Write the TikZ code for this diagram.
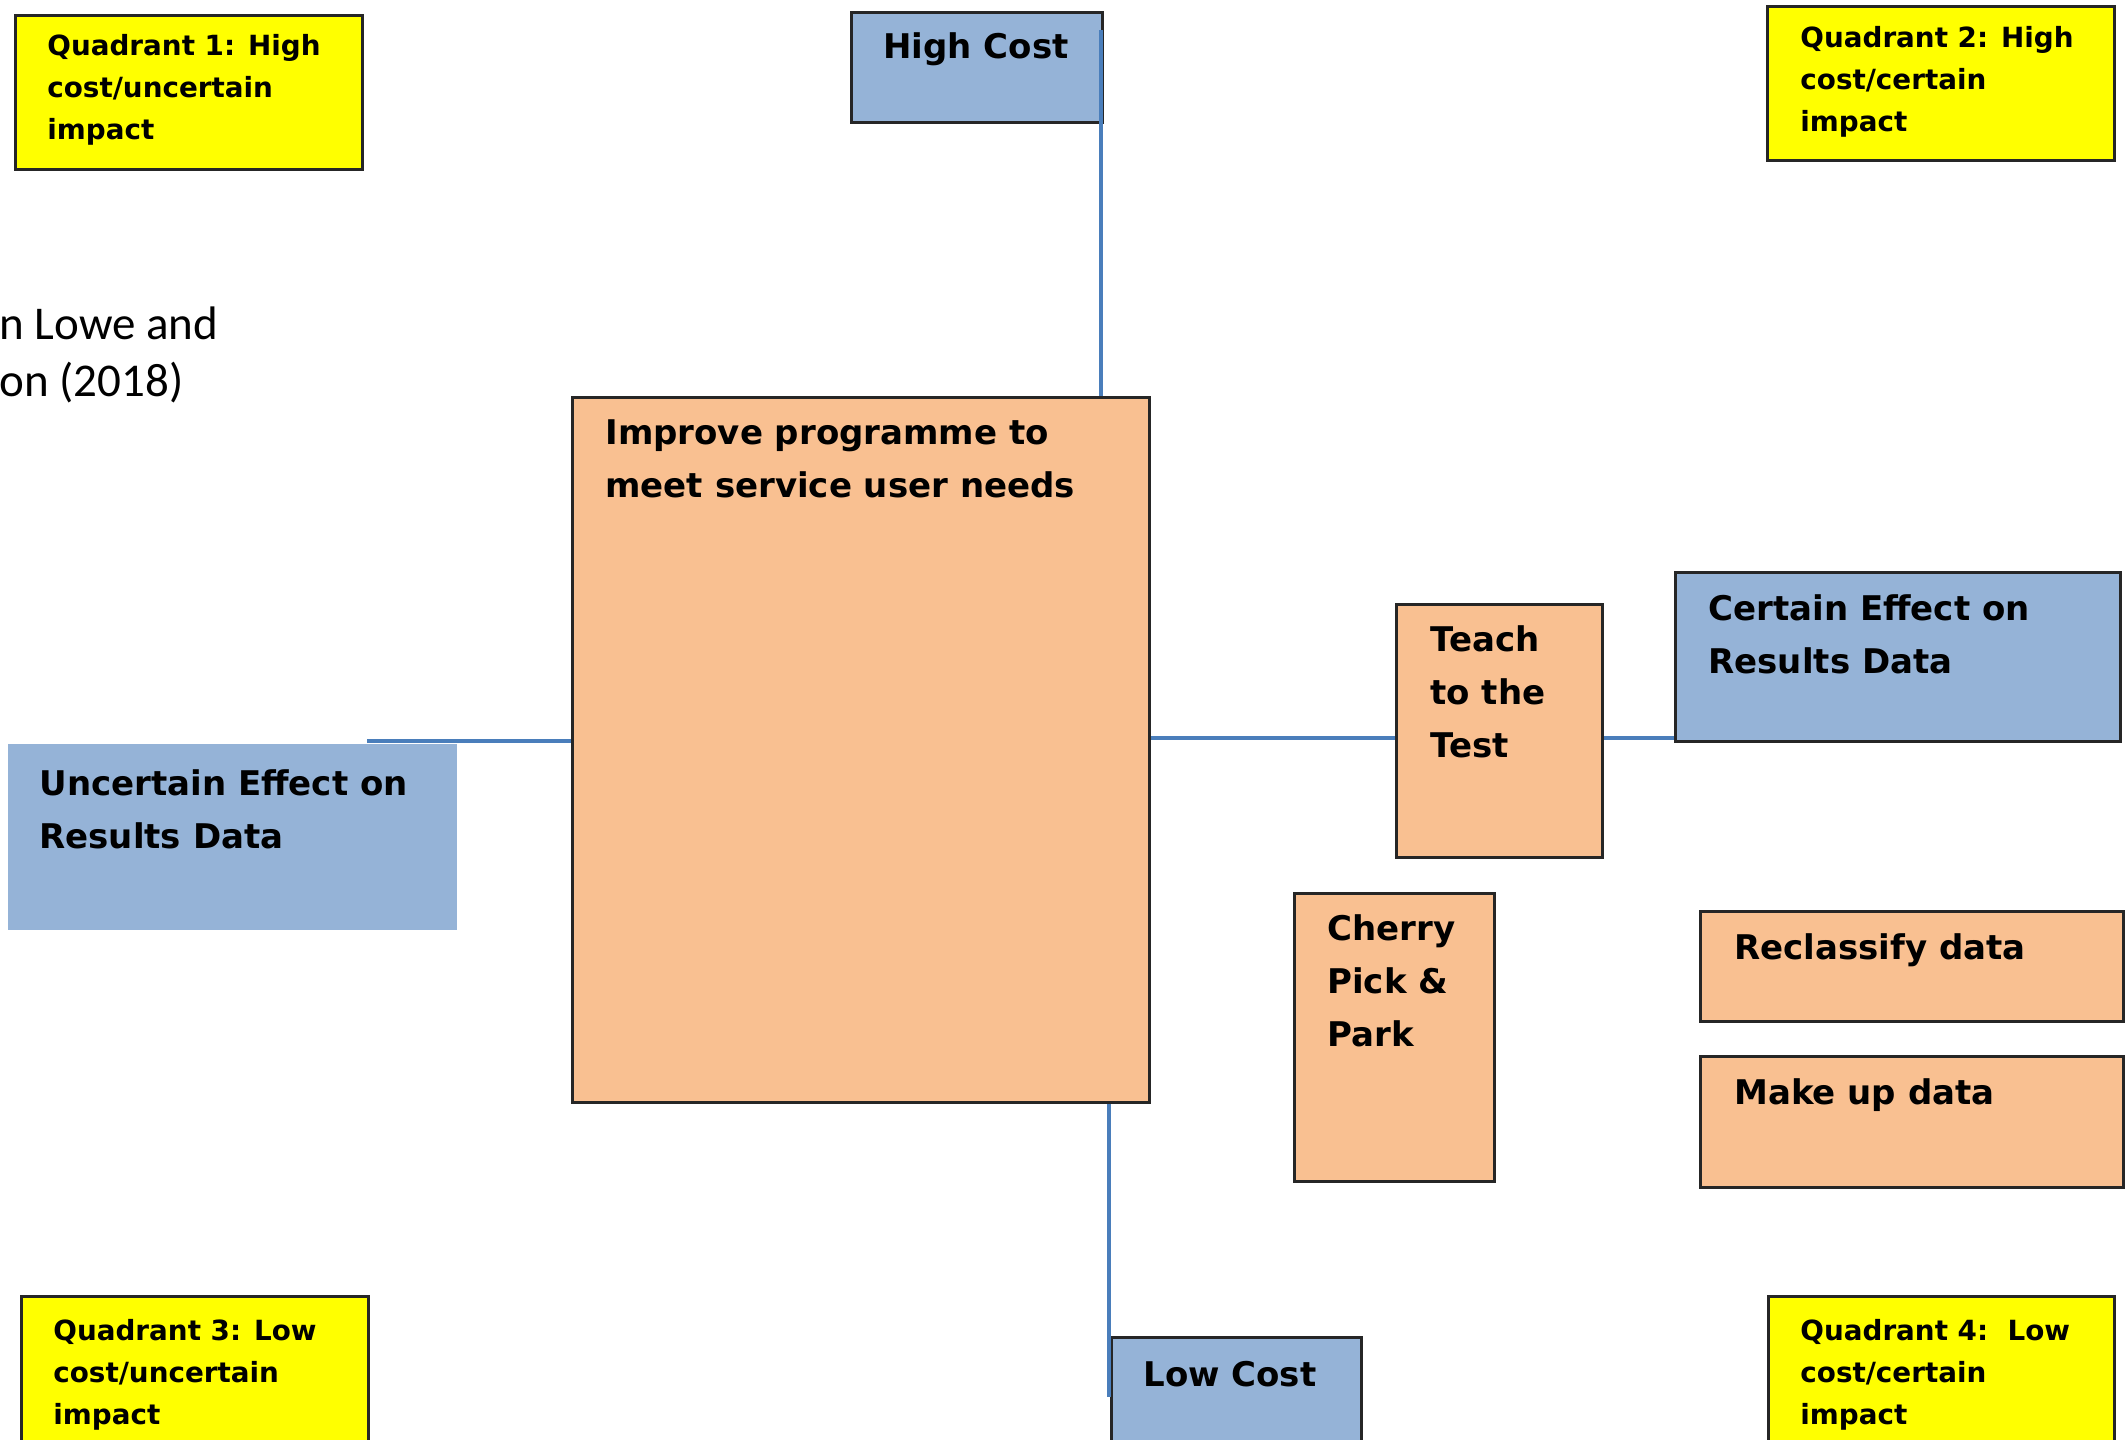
\documentclass[tikz,border=0pt]{standalone}
\usepackage{fontspec}
\setmainfont{DejaVu Sans}
\newfontfamily\calfont{Carlito}
\definecolor{boxblue}{HTML}{95B3D7}
\definecolor{boxorange}{HTML}{F9C091}
\definecolor{boxyellow}{HTML}{FFFF00}
\definecolor{boxline}{HTML}{262626}
\definecolor{connblue}{HTML}{4A7EBB}
\newcommand\boxlines[1]{\begin{tabular}[t]{@{}l@{}}#1\end{tabular}}
\tikzset{
  frame/.style={rectangle, draw=boxline, line width=1.6pt, inner sep=0pt, anchor=north west},
  bluebox/.style={frame, fill=boxblue},
  plainblue/.style={rectangle, draw=none, fill=boxblue, inner sep=0pt, anchor=north west},
  orangebox/.style={frame, fill=boxorange},
  yellowbox/.style={frame, fill=boxyellow},
  txt/.style={anchor=base west, inner sep=0pt, text=black, font=\bfseries\fontsize{17}{26.5}\selectfont},
  qtxt/.style={txt, font=\bfseries\fontsize{13.9}{21}\selectfont},
  citetxt/.style={anchor=base west, inner sep=0pt, text=black, font=\calfont\fontsize{23.5}{28.5}\selectfont},
  conn/.style={draw=connblue, line width=1.6pt}
}
\begin{document}
\begin{tikzpicture}[x=0.5pt, y=-0.5pt]
\useasboundingbox (0,0) rectangle (2126,1440);
\clip (0,0) rectangle (2126,1440);
\fill[white] (0,0) rectangle (2126,1440);

% quadrant labels
\node[yellowbox, minimum width=173.5pt, minimum height=77pt] (q1) at (14,14) {};
\node[qtxt] (q1t) at (47,55) {\boxlines{Quadrant 1: High\\cost/uncertain\\impact}};
\node[yellowbox, minimum width=173.5pt, minimum height=77pt] (q2) at (1766,5) {};
\node[qtxt] (q2t) at (1800,47) {\boxlines{Quadrant 2: High\\cost/certain\\impact}};
\node[yellowbox, minimum width=173.5pt, minimum height=85pt] (q3) at (20,1295) {};
\node[qtxt] (q3t) at (53,1340) {\boxlines{Quadrant 3: Low\\cost/uncertain\\impact}};
\node[yellowbox, minimum width=173pt, minimum height=85pt] (q4) at (1767,1295) {};
\node[qtxt] (q4t) at (1800,1340) {\boxlines{Quadrant 4:\ \ Low\\cost/certain\\impact}};

% citation (cut at the left edge)
\node[citetxt] (cite) at (-1,339) {\begin{tabular}[t]{@{}l@{}}n Lowe and\\on (2018)\end{tabular}};

% axis boxes
\node[bluebox, minimum width=125.5pt, minimum height=55pt] (high) at (850,11) {};
\node[txt] (hight) at (883,58) {High Cost};
\node[bluebox, minimum width=125pt, minimum height=70pt] (low) at (1110,1336) {};
\node[txt] (lowt) at (1143,1386) {Low Cost};
\node[plainblue, minimum width=224.5pt, minimum height=93pt] (unc) at (8,744) {};
\node[txt] (unct) at (39,795) {\boxlines{Uncertain Effect on\\Results Data}};
\node[bluebox, minimum width=222.5pt, minimum height=84.5pt] (cert) at (1674,571) {};
\node[txt] (certt) at (1708,620) {\boxlines{Certain Effect on\\Results Data}};

% strategy boxes
\node[orangebox, minimum width=288.5pt, minimum height=352.5pt] (main) at (571,396) {};
\node[txt] (maint) at (605,444) {\boxlines{Improve programme to\\meet service user needs}};
\node[orangebox, minimum width=103pt, minimum height=126.5pt] (teach) at (1395,603) {};
\node[txt] (teacht) at (1430,651) {\boxlines{Teach\\to the\\Test}};
\node[orangebox, minimum width=100pt, minimum height=144pt] (cherry) at (1293,892) {};
\node[txt] (cherryt) at (1327,940) {\boxlines{Cherry\\Pick \&\\Park}};
\node[orangebox, minimum width=211.5pt, minimum height=55pt] (recl) at (1699,910) {};
\node[txt] (reclt) at (1734,959) {Reclassify data};
\node[orangebox, minimum width=211.5pt, minimum height=65.5pt] (make) at (1699,1055) {};
\node[txt] (maket) at (1734,1104) {Make up data};

% connectors
\coordinate (topend) at (1101,30);
\coordinate (botend) at (1109,1397);
\coordinate (leftend) at (367,741);
\coordinate (rl) at (0,738);
\draw[conn] (topend) -- (topend |- main.north);
\draw[conn] (botend |- main.south) -- (botend);
\draw[conn] (leftend) -- (leftend -| main.west);
\draw[conn] (main.east |- rl) -- (teach.west |- rl);
\draw[conn] (teach.east |- rl) -- (cert.west |- rl);
\end{tikzpicture}
\end{document}
